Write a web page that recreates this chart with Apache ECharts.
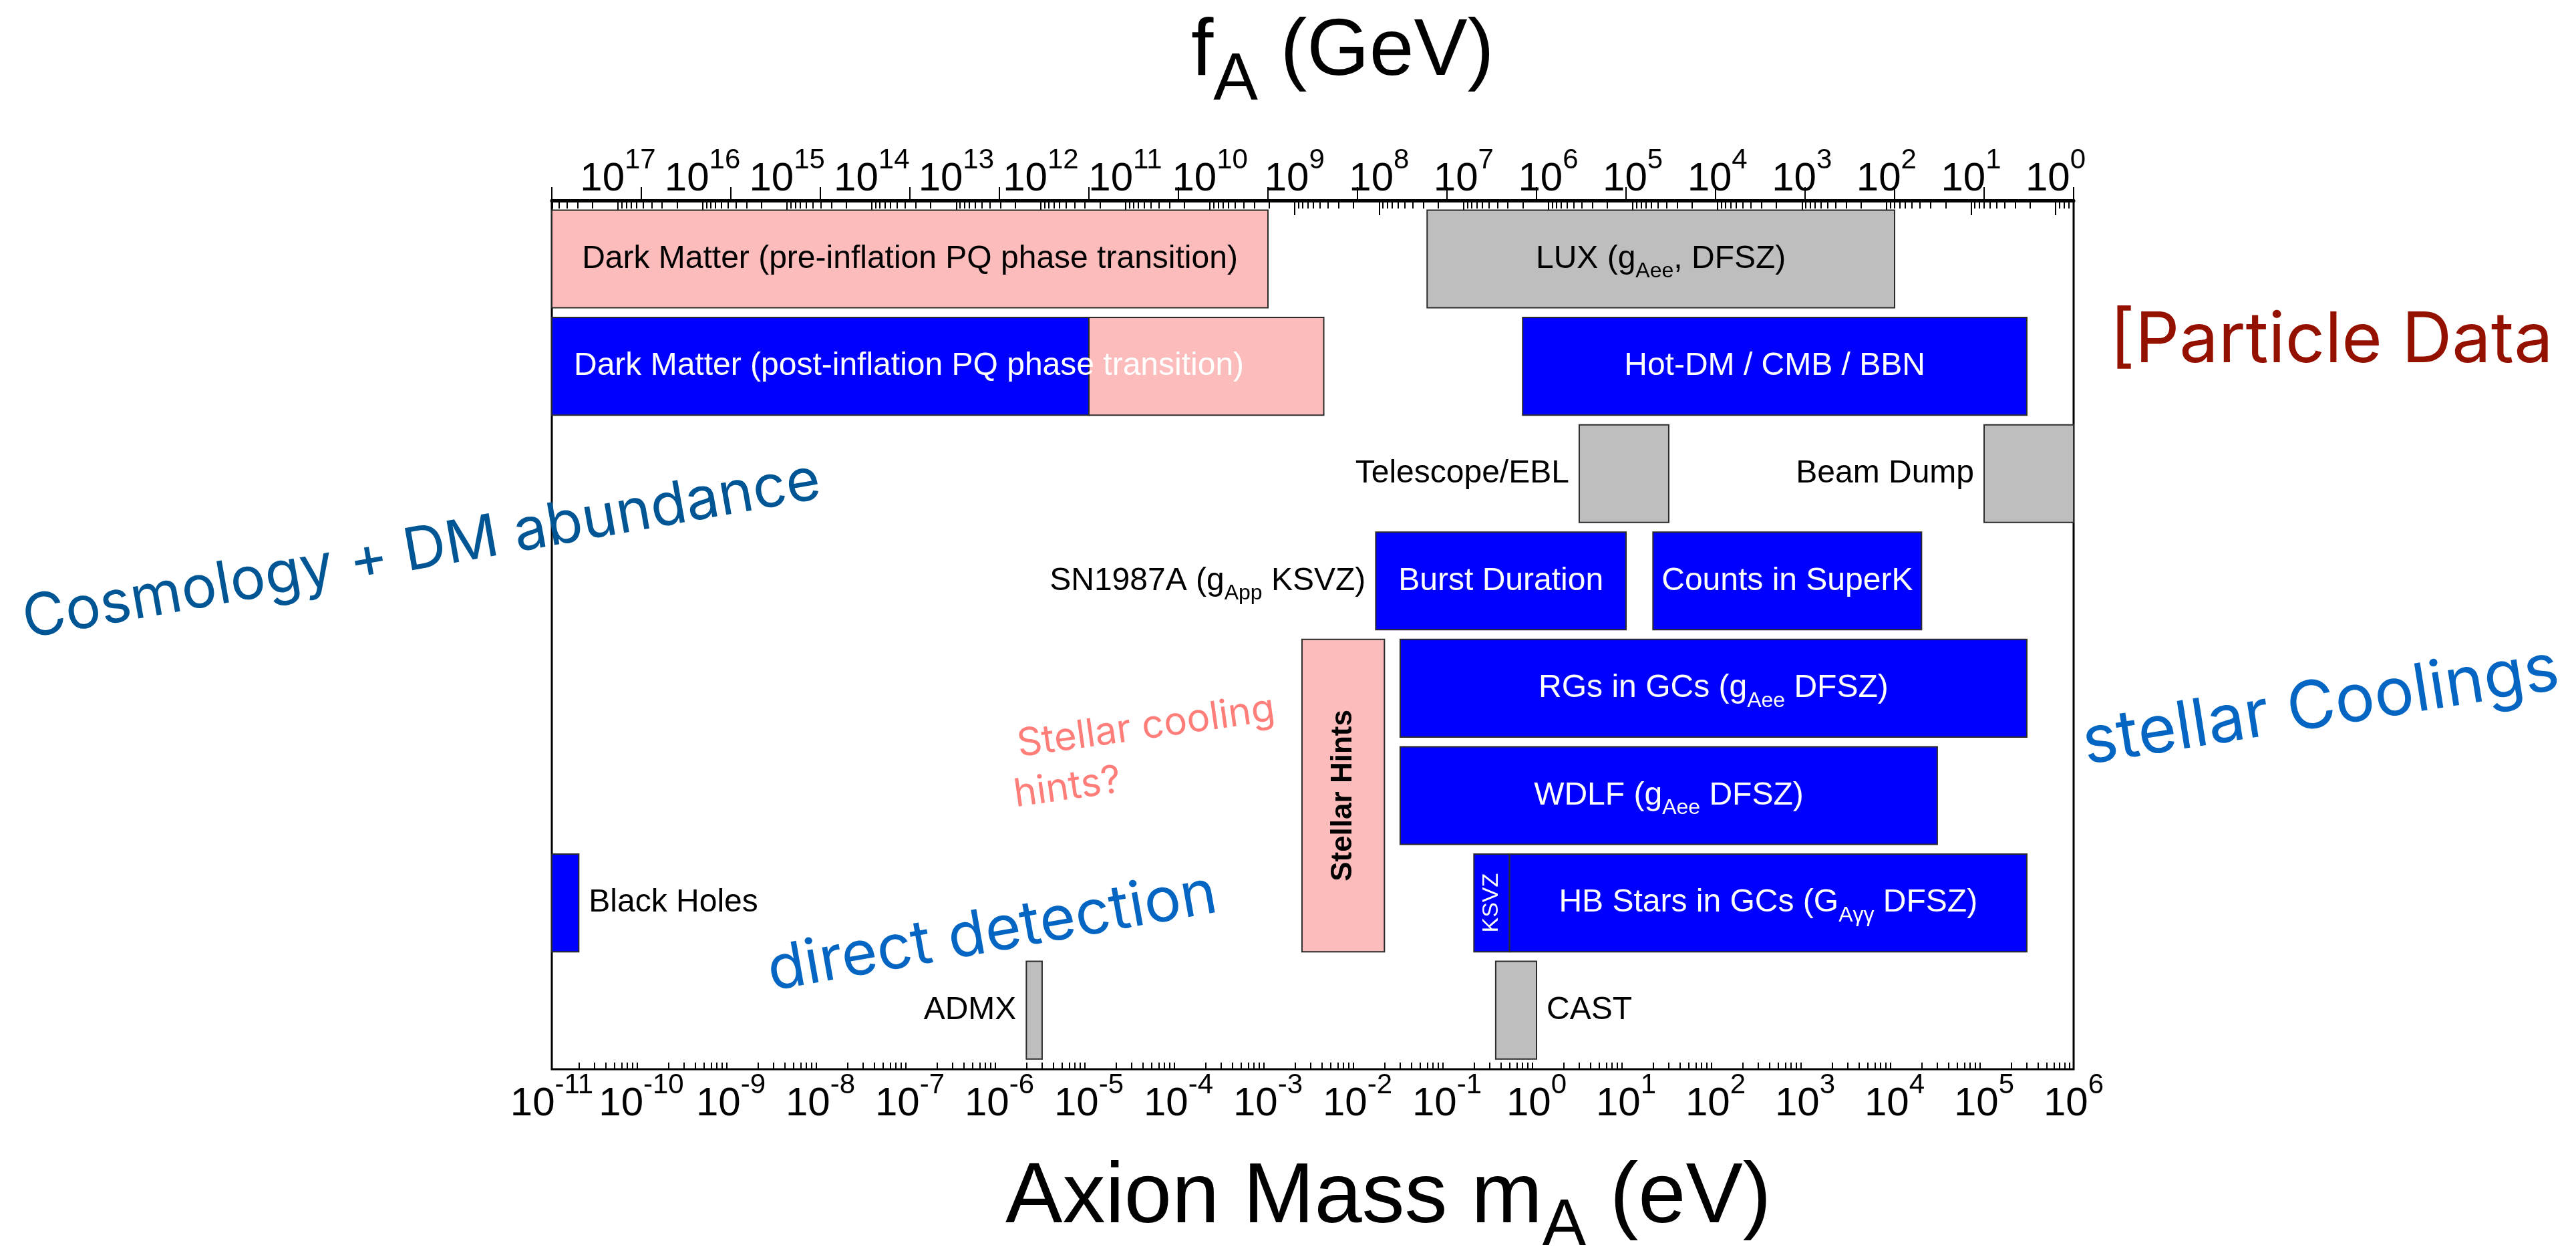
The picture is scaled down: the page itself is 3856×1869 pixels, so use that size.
<!DOCTYPE html>
<html>
<head>
<meta charset="utf-8">
<title>Axion mass bounds</title>
<script src="https://cdn.jsdelivr.net/npm/echarts@6/dist/echarts.min.js"></script>
<style>
html,body{margin:0;padding:0;background:#fff;}
#chart{width:3856px;height:1869px;}
</style>
</head>
<body>
<div id="chart"></div>
<script>
// ================= DATA =================
// bottom axis: axion mass m_A (eV), tick exponents of 10
const massTickExponents = [-11,-10,-9,-8,-7,-6,-5,-4,-3,-2,-1,0,1,2,3,4,5,6];
// top axis: f_A (GeV), tick exponents of 10 (left to right)
const faTickExponents = [17,16,15,14,13,12,11,10,9,8,7,6,5,4,3,2,1,0];
// log10 f_A (GeV) at the right and left frame edges
const faAxisRange = [-0.213, 17.782];

// boxes (mass range in eV, rows counted from top)
const boxName = [
  'DM pre-inflation', 'LUX', 'DM post-inflation', 'DM post-inflation (pink)', 'Hot-DM',
  'Telescope/EBL', 'Beam Dump', 'Burst Duration', 'Counts in SuperK', 'Stellar Hints',
  'RGs in GCs', 'WDLF', 'HB KSVZ', 'HB DFSZ', 'Black Holes', 'ADMX', 'CAST'
];
const boxMassMin = [1e-11, 0.06, 1e-11, 1e-5, 0.7, 3, 1e5, 0.016, 20, 2.4e-3, 0.03, 0.03, 0.2, 0.5, 1e-11, 2e-6, 0.35];
const boxMassMax = [1e-3, 1e4, 1e-5, 4.2e-3, 3e5, 30, 1e6, 10, 2e4, 0.02, 3e5, 3e4, 0.5, 3e5, 2e-11, 3e-6, 1];
const boxRowFirst = [1, 1, 2, 2, 2, 3, 3, 4, 4, 5, 5, 6, 7, 7, 7, 8, 8];
const boxRowLast  = [1, 1, 2, 2, 2, 3, 3, 4, 4, 7, 5, 6, 7, 7, 7, 8, 8];
const boxKind = ['dm', 'experiment', 'bound', 'dm', 'bound', 'experiment', 'experiment', 'bound', 'bound', 'hint',
                 'bound', 'bound', 'bound', 'bound', 'bound', 'experiment', 'experiment'];
const boxLabel = [
  'Dark Matter (pre-inflation PQ phase transition)',
  'LUX (g{s|Aee}, DFSZ)',
  'Dark Matter (post-inflation PQ phase transition)',
  '',
  'Hot-DM / CMB / BBN',
  '', '',
  'Burst Duration',
  'Counts in SuperK',
  'Stellar Hints',
  'RGs in GCs (g{s|Aee} DFSZ)',
  'WDLF (g{s|Aee} DFSZ)',
  'KSVZ',
  'HB Stars in GCs (G{s|Aγγ} DFSZ)',
  '', '', ''
];
const sideLabel = ['', '', '', '', '', 'Telescope/EBL', 'Beam Dump', 'SN1987A (g{s|App} KSVZ)', '', '',
                   '', '', '', '', 'Black Holes', 'ADMX', 'CAST'];
const sideLabelSide = ['', '', '', '', '', 'left', 'left', 'left', '', '', '', '', '', '', 'right', 'left', 'right'];

// free annotations
const annotations = [
  {text: 'Cosmology + DM abundance', color: '#005594'},
  {text: 'direct detection', color: '#0466c2'},
  {text: 'Stellar cooling', color: '#ff7e79'},
  {text: 'hints?', color: '#ff7e79'},
  {text: 'stellar Coolings', color: '#0466c2'},
  {text: '[Particle Data', color: '#941100'}
];

// ================= STYLE / LAYOUT =================
const FONT = '"Liberation Sans", Arial, Helvetica, sans-serif';
const ANN_FONT = 'Inter, "Open Sans", sans-serif';
const KIND_FILL = {dm: '#fbbcbb', hint: '#fbbcbb', experiment: '#bebebe', bound: '#0000ff'};
const ROW_FILL = 0.91;
const ROW_MAX = 8.095;
const VERTICAL_LABELS = {'Stellar Hints': {fontSize: 44, fontWeight: 'bold'}, 'HB KSVZ': {fontSize: 34}};
const LEFT_INSIDE = {'DM post-inflation': 33};

const boxData = boxName.map((n, i) => [
  Math.log10(boxMassMin[i]), Math.log10(boxMassMax[i]), boxRowFirst[i], boxRowLast[i]
]);

const subRich = {
  s: {fontSize: 32, fontFamily: FONT, lineHeight: 32, padding: [38, 0, 0, 0]}
};

function boxRect(api) {
  const p0 = api.coord([api.value(0), api.value(2) - ROW_FILL]);
  const p1 = api.coord([api.value(1), api.value(3)]);
  return {x: p0[0], y: p0[1], width: p1[0] - p0[0], height: p1[1] - p0[1]};
}

function renderBox(params, api) {
  const i = params.dataIndex;
  const r = boxRect(api);
  const cs = params.coordSys;
  const shape = echarts.graphic.clipRectByRect(r, {x: cs.x, y: cs.y, width: cs.width, height: cs.height});
  if (!shape) return;
  return {
    type: 'rect',
    shape: shape,
    style: {fill: KIND_FILL[boxKind[i]], stroke: '#2b2b2b', lineWidth: 2}
  };
}

function renderLabel(params, api) {
  const i = params.dataIndex;
  const r = boxRect(api);
  const cx = r.x + r.width / 2, cy = r.y + r.height / 2;
  const children = [];
  if (boxLabel[i]) {
    const fill = boxKind[i] === 'bound' ? '#ffffff' : '#000000';
    const el = {
      type: 'text', x: cx, y: cy,
      style: {
        text: boxLabel[i], fill: fill, fontSize: 48, fontFamily: FONT,
        align: 'center', verticalAlign: 'middle', rich: subRich
      }
    };
    const v = VERTICAL_LABELS[boxName[i]];
    if (v) {
      el.rotation = Math.PI / 2;
      el.style.fontSize = v.fontSize;
      if (v.fontWeight) el.style.fontWeight = v.fontWeight;
    }
    if (LEFT_INSIDE[boxName[i]] !== undefined) {
      el.x = r.x + LEFT_INSIDE[boxName[i]];
      el.style.align = 'left';
    }
    children.push(el);
  }
  if (sideLabel[i]) {
    const left = sideLabelSide[i] === 'left';
    children.push({
      type: 'text',
      x: left ? r.x - 15 : r.x + r.width + 15,
      y: cy,
      style: {
        text: sideLabel[i], fill: '#000', fontSize: 48, fontFamily: FONT,
        align: left ? 'right' : 'left', verticalAlign: 'middle', rich: subRich
      }
    });
  }
  return {type: 'group', children: children};
}

// axis ticks (log decades and their 2..9 sub-ticks)
const massMajor = massTickExponents.slice();
const massMinor = [];
for (let n = massTickExponents[0]; n < massTickExponents[massTickExponents.length - 1]; n++) {
  for (let k = 2; k <= 9; k++) massMinor.push(n + Math.log10(k));
}
const faMajor = faTickExponents.slice();
const faMinor = [];
for (let n = Math.floor(faAxisRange[0]); n <= Math.ceil(faAxisRange[1]); n++) {
  for (let k = 2; k <= 9; k++) {
    const v = n + Math.log10(k);
    if (v > faAxisRange[0] && v < faAxisRange[1]) faMinor.push(v);
  }
}

const expRich = {
  b: {fontSize: 60, fontFamily: FONT, color: '#000', lineHeight: 60},
  p: {fontSize: 42, fontFamily: FONT, color: '#000', lineHeight: 42, padding: [0, 0, 56, 0]}
};
const expFormatter = v => '{b|10}{p|' + Math.round(v) + '}';

const chart = echarts.init(document.getElementById('chart'), null, {renderer: 'canvas'});
const option = {
  animation: false,
  backgroundColor: '#ffffff',
  textStyle: {fontFamily: FONT},
  grid: {left: 826, right: 752, top: 300, bottom: 269, show: true, borderColor: '#000', borderWidth: 3,
         backgroundColor: 'transparent', containLabel: false},
  xAxis: [
    { // mass, major
      type: 'value', position: 'bottom', min: massTickExponents[0], max: massTickExponents[massTickExponents.length - 1],
      axisLine: {show: true, lineStyle: {color: '#000', width: 5}},
      axisTick: {show: true, inside: true, length: 20, customValues: massMajor, lineStyle: {color: '#000', width: 2}},
      axisLabel: {show: true, customValues: massMajor, formatter: expFormatter, rich: expRich, margin: 22,
                  showMinLabel: true, showMaxLabel: true},
      splitLine: {show: false}
    },
    { // mass, minor
      type: 'value', position: 'bottom', min: massTickExponents[0], max: massTickExponents[massTickExponents.length - 1],
      axisLine: {show: false},
      axisTick: {show: true, inside: true, length: 10, customValues: massMinor, lineStyle: {color: '#000', width: 2}},
      axisLabel: {show: false},
      splitLine: {show: false}
    },
    { // f_A, major
      type: 'value', position: 'top', inverse: true, min: faAxisRange[0], max: faAxisRange[1],
      axisLine: {show: true, lineStyle: {color: '#000', width: 4}},
      axisTick: {show: true, inside: true, length: 22, customValues: faMajor, lineStyle: {color: '#000', width: 2}},
      axisLabel: {show: true, customValues: faMajor, formatter: expFormatter, rich: expRich, margin: 2,
                  showMinLabel: true, showMaxLabel: true},
      splitLine: {show: false}
    },
    { // f_A, minor
      type: 'value', position: 'top', inverse: true, min: faAxisRange[0], max: faAxisRange[1],
      axisLine: {show: false},
      axisTick: {show: true, inside: true, length: 12, customValues: faMinor, lineStyle: {color: '#000', width: 2}},
      axisLabel: {show: false},
      splitLine: {show: false}
    }
  ],
  yAxis: {
    type: 'value', min: 0, max: ROW_MAX, inverse: true, show: false
  },
  series: [
    {
      type: 'custom', name: 'boxes', xAxisIndex: 0, yAxisIndex: 0, z: 2,
      renderItem: renderBox, data: boxData, encode: {x: [0, 1], y: [2, 3]}
    },
    {
      type: 'custom', name: 'labels', xAxisIndex: 0, yAxisIndex: 0, z: 3,
      renderItem: renderLabel, data: boxData, encode: {x: [0, 1], y: [2, 3]}
    }
  ],
  graphic: [
    { // top axis title
      type: 'text', x: 1783, y: 79, z: 10,
      style: {
        text: '{m|f}{s|A}{m| (GeV)}', fill: '#000', align: 'left', verticalAlign: 'middle',
        textAlign: 'left', textVerticalAlign: 'middle',
        rich: {
          m: {fontSize: 120, fontFamily: FONT, fill: '#000'},
          s: {fontSize: 100, fontFamily: FONT, fill: '#000', lineHeight: 100, padding: [84, 0, 0, 0]}
        }
      }
    },
    { // bottom axis title
      type: 'text', x: 1505, y: 1794, z: 10,
      style: {
        text: '{m|Axion Mass m}{s|A}{m| (eV)}', fill: '#000', align: 'left', verticalAlign: 'middle',
        textAlign: 'left', textVerticalAlign: 'middle',
        rich: {
          m: {fontSize: 128, fontFamily: FONT, fill: '#000'},
          s: {fontSize: 98, fontFamily: FONT, fill: '#000', lineHeight: 98, padding: [84, 0, 0, 0]}
        }
      }
    },
    {type: 'text', x: 35, y: 929, rotation: 10 * Math.PI / 180, z: 20,
     style: {text: annotations[0].text, fill: annotations[0].color, fontSize: 88, fontFamily: ANN_FONT,
             align: 'left', verticalAlign: 'middle', textAlign: 'left', textVerticalAlign: 'middle'}},
    {type: 'text', x: 1150, y: 1455, rotation: 10 * Math.PI / 180, z: 20,
     style: {text: annotations[1].text, fill: annotations[1].color, fontSize: 92, fontFamily: ANN_FONT,
             align: 'left', verticalAlign: 'middle', textAlign: 'left', textVerticalAlign: 'middle'}},
    {type: 'text', x: 1523, y: 1115, rotation: 8 * Math.PI / 180, z: 20,
     style: {text: annotations[2].text, fill: annotations[2].color, fontSize: 58, fontFamily: ANN_FONT,
             align: 'left', verticalAlign: 'middle', textAlign: 'left', textVerticalAlign: 'middle'}},
    {type: 'text', x: 1518, y: 1190, rotation: 8 * Math.PI / 180, z: 20,
     style: {text: annotations[3].text, fill: annotations[3].color, fontSize: 58, fontFamily: ANN_FONT,
             align: 'left', verticalAlign: 'middle', textAlign: 'left', textVerticalAlign: 'middle'}},
    {type: 'text', x: 3118, y: 1114, rotation: 9 * Math.PI / 180, z: 20,
     style: {text: annotations[4].text, fill: annotations[4].color, fontSize: 99, fontFamily: ANN_FONT,
             align: 'left', verticalAlign: 'middle', textAlign: 'left', textVerticalAlign: 'middle'}},
    {type: 'text', x: 3158, y: 511, z: 20,
     style: {text: annotations[5].text, fill: annotations[5].color, fontSize: 104, fontFamily: ANN_FONT,
             align: 'left', verticalAlign: 'middle', textAlign: 'left', textVerticalAlign: 'middle'}}
  ]
};
chart.setOption(option);
</script>
</body>
</html>
